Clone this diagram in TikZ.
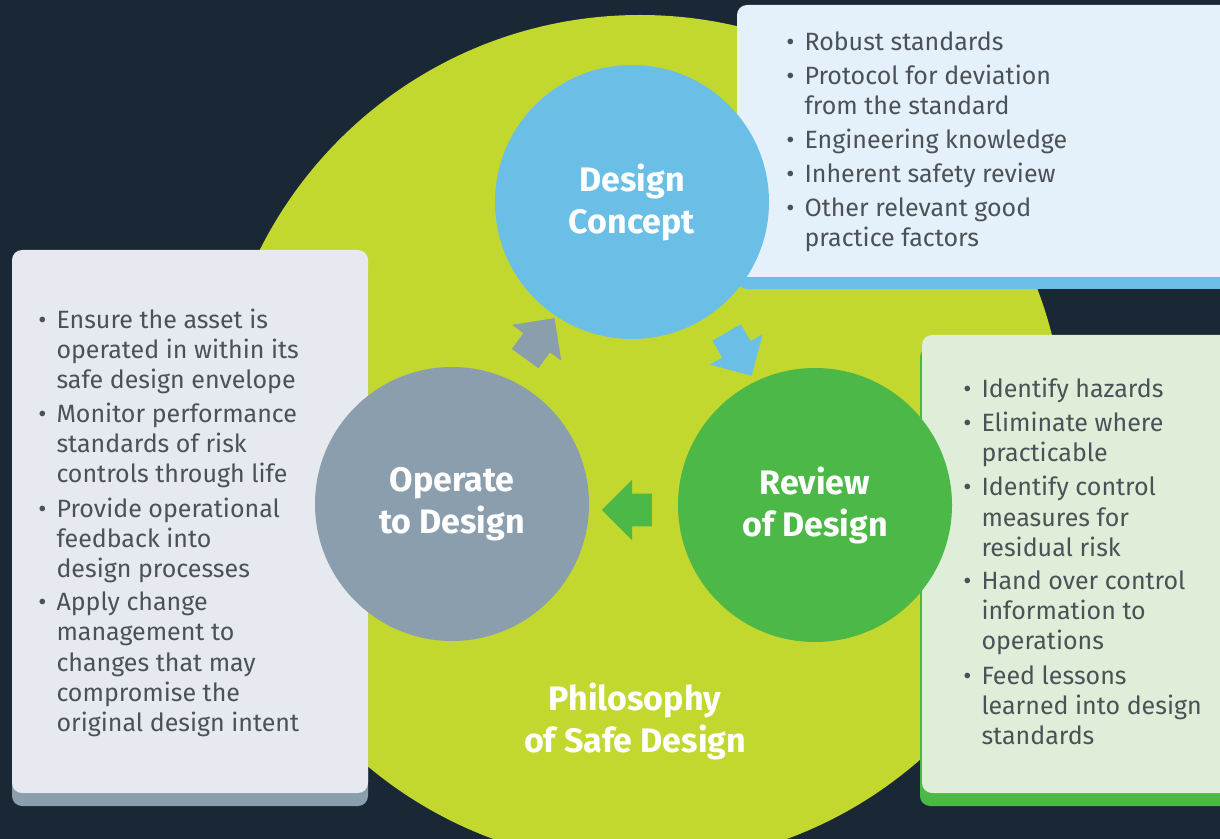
\documentclass[tikz,border=0pt]{standalone}
\usepackage{fontspec}
\setmainfont{Fira Sans}
\usetikzlibrary{shapes.arrows}

\definecolor{navy}{HTML}{1A2734}
\definecolor{lime}{HTML}{C2D82F}
\definecolor{skyblue}{HTML}{6BBFE7}
\definecolor{slate}{HTML}{8A9EAD}
\definecolor{leaf}{HTML}{4CB848}
\definecolor{bodytext}{HTML}{4B5157}
\definecolor{paleblue}{HTML}{E4F1FA}
\definecolor{palegrey}{HTML}{E6EAF0}
\definecolor{palegreen}{HTML}{DEEED8}

\newcommand{\titlefont}{\fontsize{17}{21}\selectfont\bfseries}
\newcommand{\listfont}{\fontsize{12.5}{15}\selectfont}
\newcommand{\gap}{\\[2pt]}
\newcommand{\dotmark}{\textbullet}

\begin{document}
\begin{tikzpicture}
      [x=0.5pt,y=-0.5pt
      ,stage/.style={circle,minimum size=137pt,inner sep=0pt,text=white,font=\titlefont,align=center}
      ,panel/.style={rounded corners=5pt}
      ,notes/.style={inner sep=0pt,anchor=base west,text=bodytext,font=\listfont}
      ,flow/.style={single arrow,minimum height=25pt,inner xsep=0pt,inner ysep=8pt,single arrow head extend=7pt}
      ]
        \useasboundingbox (0,0) rectangle (1220,839);
        \clip (0,0) rectangle (1220,839);
        \fill[navy] (0,0) rectangle (1220,839);
        % backdrop
        \fill[lime] (640,440) circle (212.5pt);
        % panels with their coloured lower edge
        \fill[panel,skyblue] (737,17) rectangle (1240,289);
        \fill[panel,paleblue] (737,5) rectangle (1240,277);
        \fill[panel,slate] (12,262) rectangle (368,806);
        \fill[panel,palegrey] (12,250) rectangle (368,793);
        \fill[panel,leaf] (920,347) rectangle (1240,806);
        \fill[panel,palegreen] (922,335) rectangle (1240,793);
        % the three stages
        \node[stage,fill=skyblue] (concept) at (632,202) {Design\\Concept};
        \node[stage,fill=slate] (operate) at (452,504) {Operate\\to Design};
        \node[stage,fill=leaf] (review) at (815,505) {Review\\of Design};
        \node[flow,fill=slate,rotate=54] (feedback) at (535,345) {};
        \node[flow,fill=skyblue,rotate=-60] (ahead) at (735,347) {};
        \node[flow,fill=leaf,rotate=180] (handover) at (635,510) {};
        \node[font=\titlefont,text=white,align=center] (philosophy) at (635,721) {Philosophy\\of Safe Design};
        % lists
        \node[notes] (conceptnotes) at (786,51) {\begin{tabular}[t]{@{}l@{\hspace{5pt}}l@{}}
          \dotmark & Robust standards\gap
          \dotmark & Protocol for deviation\\
                   & from the standard\gap
          \dotmark & Engineering knowledge\gap
          \dotmark & Inherent safety review\gap
          \dotmark & Other relevant good\\
                   & practice factors
        \end{tabular}};
        \node[notes] (operatenotes) at (38,329) {\begin{tabular}[t]{@{}l@{\hspace{5pt}}l@{}}
          \dotmark & Ensure the asset is\\
                   & operated in within its\\
                   & safe design envelope\gap
          \dotmark & Monitor performance\\
                   & standards of risk\\
                   & controls through life\gap
          \dotmark & Provide operational\\
                   & feedback into\\
                   & design processes\gap
          \dotmark & Apply change\\
                   & management to\\
                   & changes that may\\
                   & compromise the\\
                   & original design intent
        \end{tabular}};
        \node[notes] (reviewnotes) at (963,398) {\begin{tabular}[t]{@{}l@{\hspace{5pt}}l@{}}
          \dotmark & Identify hazards\gap
          \dotmark & Eliminate where\\
                   & practicable\gap
          \dotmark & Identify control\\
                   & measures for\\
                   & residual risk\gap
          \dotmark & Hand over control\\
                   & information to\\
                   & operations\gap
          \dotmark & Feed lessons\\
                   & learned into design\\
                   & standards
        \end{tabular}};
      \end{tikzpicture}
\end{document}
